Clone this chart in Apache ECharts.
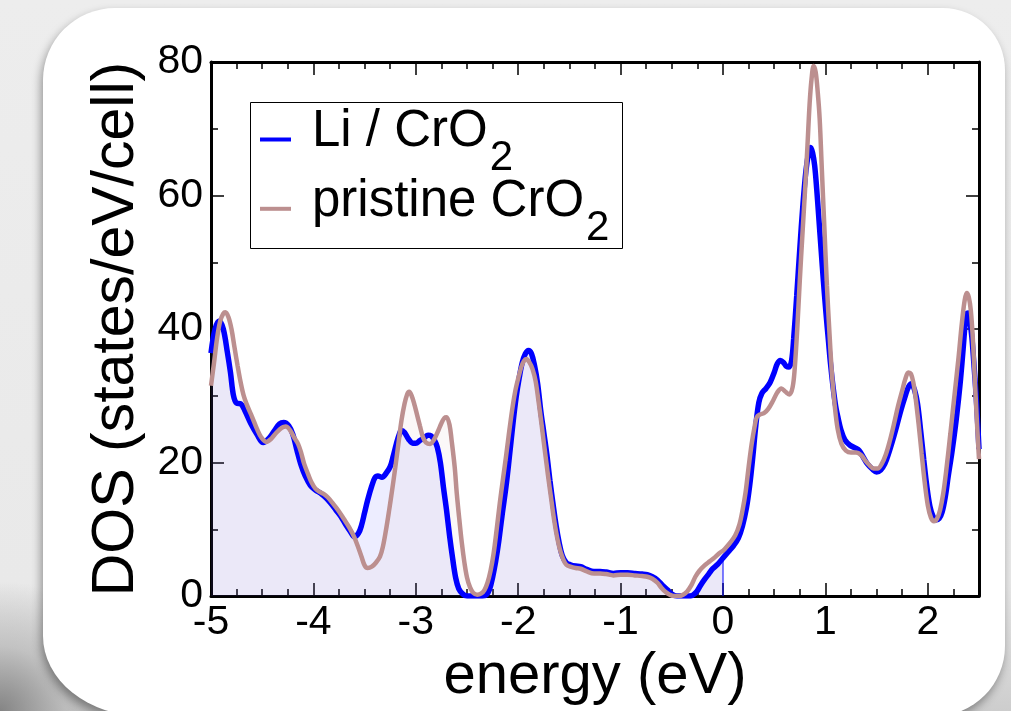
<!DOCTYPE html>
<html>
<head>
<meta charset="utf-8">
<script src="https://cdn.jsdelivr.net/npm/echarts@6/dist/echarts.min.js"></script>
<style>
  html, body { margin: 0; padding: 0; width: 1011px; height: 711px; overflow: hidden; }
  body { position: relative;
         background: radial-gradient(circle 130px at 0px 711px, rgba(120,120,120,0.85) 0%, rgba(170,170,170,0.5) 50%, rgba(230,230,230,0) 100%),
                     linear-gradient(180deg, #ededed 0%, #e9e9e9 82%, #cdcdcd 100%); }
  #card { position: absolute; left: 43px; top: 8px; width: 962px; height: 708px; background: #fff;
          border-radius: 72px 62px 70px 100px / 72px 62px 70px 80px;
          box-shadow: -2px 5px 10px rgba(0,0,0,0.38); }
  #chart { position: absolute; left: 0; top: 0; width: 1011px; height: 711px; }
</style>
</head>
<body>
<div id="card"></div>
<div id="chart"></div>
<script>
// ---- data: Li / CrO2 ----
const liE = [-5.00,-4.96,-4.92,-4.88,-4.84,-4.81,-4.78,-4.75,-4.71,-4.67,-4.61,-4.55,-4.49,-4.43,-4.38,-4.33,-4.29,-4.24,-4.20,-4.16,-4.12,-4.08,-4.03,-3.98,-3.92,-3.87,-3.83,-3.78,-3.73,-3.68,-3.64,-3.60,-3.56,-3.53,-3.50,-3.47,-3.43,-3.40,-3.37,-3.33,-3.29,-3.25,-3.22,-3.19,-3.16,-3.14,-3.11,-3.07,-3.03,-3.00,-2.96,-2.92,-2.88,-2.85,-2.82,-2.79,-2.76,-2.73,-2.70,-2.67,-2.64,-2.61,-2.58,-2.54,-2.50,-2.45,-2.40,-2.35,-2.31,-2.28,-2.25,-2.22,-2.19,-2.16,-2.12,-2.09,-2.05,-2.02,-1.99,-1.96,-1.93,-1.90,-1.87,-1.84,-1.81,-1.78,-1.75,-1.72,-1.69,-1.66,-1.63,-1.60,-1.57,-1.53,-1.49,-1.44,-1.39,-1.33,-1.26,-1.20,-1.14,-1.07,-1.00,-0.93,-0.86,-0.79,-0.74,-0.69,-0.64,-0.59,-0.54,-0.50,-0.45,-0.40,-0.35,-0.30,-0.26,-0.22,-0.18,-0.14,-0.10,-0.05,0.00,0.05,0.10,0.15,0.19,0.23,0.26,0.29,0.32,0.35,0.38,0.42,0.46,0.50,0.53,0.56,0.59,0.62,0.645,0.67,0.69,0.72,0.75,0.78,0.81,0.835,0.855,0.875,0.895,0.915,0.935,0.96,0.98,1.005,1.03,1.05,1.075,1.10,1.125,1.15,1.19,1.24,1.29,1.33,1.37,1.41,1.46,1.50,1.54,1.58,1.62,1.66,1.70,1.74,1.78,1.81,1.84,1.87,1.90,1.93,1.96,1.99,2.02,2.05,2.08,2.11,2.14,2.17,2.20,2.235,2.27,2.30,2.32,2.345,2.365,2.38,2.395,2.41,2.43,2.45,2.47,2.485,2.50];
const liV = [36.4,40.0,41.2,40.0,36.5,33.5,30.0,28.9,28.8,27.8,25.8,24.2,23.0,23.7,24.8,25.8,26.0,25.5,24.2,21.8,19.6,18.0,16.6,15.9,15.3,14.6,13.9,12.9,11.9,10.6,9.7,8.9,9.4,10.6,12.5,14.4,16.5,17.7,18.0,17.8,18.4,19.4,21.0,22.8,24.3,24.8,24.5,23.5,22.9,22.9,23.3,23.7,24.1,24.0,23.4,22.3,20.0,16.3,12.9,9.0,5.6,2.7,1.1,0.3,0.0,0.0,0.0,0.0,0.2,1.0,2.8,5.2,8.2,11.8,16.3,20.3,26.0,29.8,32.7,35.0,36.3,36.8,36.3,34.5,31.8,27.8,24.5,21.2,17.3,13.8,10.6,8.0,6.1,5.0,4.7,4.5,4.4,4.0,3.7,3.7,3.6,3.4,3.5,3.5,3.4,3.3,3.2,2.9,2.4,1.6,0.9,0.3,0.0,0.0,0.0,0.1,0.6,1.6,2.5,3.3,4.1,4.8,5.7,6.6,7.5,8.7,10.5,13.3,16.5,20.7,25.5,29.0,30.4,31.1,32.0,33.5,34.8,35.3,35.0,34.4,34.3,35.3,38.5,45.0,52.0,58.5,63.7,66.3,67.2,66.4,64.5,61.0,56.8,51.5,47.3,42.5,38.2,34.8,31.3,28.5,26.6,25.0,23.4,22.6,22.2,21.8,20.8,19.8,19.0,18.6,18.9,19.8,21.5,23.5,25.7,28.0,30.0,31.3,31.8,30.9,28.8,24.8,20.5,16.5,13.5,12.0,11.4,11.6,12.6,14.8,18.0,21.5,25.5,29.5,32.5,37.0,40.8,42.3,42.4,41.3,38.8,34.8,30.5,26.5,22.0];
// ---- data: pristine CrO2 ----
const prE = [-5.00,-4.97,-4.94,-4.91,-4.88,-4.86,-4.83,-4.80,-4.77,-4.74,-4.71,-4.68,-4.64,-4.60,-4.55,-4.51,-4.46,-4.41,-4.36,-4.31,-4.27,-4.23,-4.19,-4.15,-4.12,-4.09,-4.05,-4.02,-3.98,-3.94,-3.90,-3.86,-3.81,-3.76,-3.70,-3.65,-3.60,-3.56,-3.53,-3.50,-3.47,-3.43,-3.39,-3.35,-3.32,-3.29,-3.26,-3.23,-3.20,-3.17,-3.14,-3.11,-3.085,-3.065,-3.04,-3.01,-2.99,-2.96,-2.93,-2.90,-2.86,-2.82,-2.78,-2.75,-2.72,-2.70,-2.67,-2.65,-2.62,-2.60,-2.575,-2.55,-2.525,-2.50,-2.47,-2.44,-2.40,-2.36,-2.33,-2.30,-2.27,-2.24,-2.21,-2.18,-2.15,-2.12,-2.095,-2.06,-2.03,-2.00,-1.97,-1.945,-1.92,-1.89,-1.86,-1.83,-1.80,-1.77,-1.74,-1.71,-1.68,-1.65,-1.62,-1.59,-1.56,-1.53,-1.49,-1.44,-1.39,-1.33,-1.26,-1.20,-1.14,-1.07,-1.00,-0.93,-0.86,-0.79,-0.74,-0.69,-0.64,-0.60,-0.56,-0.52,-0.48,-0.43,-0.39,-0.35,-0.31,-0.27,-0.23,-0.18,-0.13,-0.08,-0.03,0.00,0.02,0.07,0.12,0.16,0.19,0.22,0.25,0.28,0.31,0.33,0.36,0.40,0.44,0.49,0.53,0.57,0.61,0.65,0.68,0.70,0.725,0.75,0.775,0.80,0.825,0.846,0.865,0.885,0.905,0.925,0.944,0.965,0.99,1.015,1.04,1.065,1.09,1.12,1.157,1.20,1.25,1.30,1.35,1.39,1.43,1.47,1.51,1.55,1.59,1.63,1.67,1.71,1.75,1.78,1.81,1.835,1.86,1.88,1.91,1.94,1.97,2.00,2.03,2.06,2.09,2.12,2.15,2.18,2.22,2.26,2.30,2.33,2.36,2.38,2.40,2.42,2.44,2.46,2.48,2.50];
const prV = [31.5,35.0,38.7,41.2,42.3,42.5,41.8,40.0,37.2,34.5,32.0,30.0,28.3,26.9,25.0,23.8,23.1,23.6,24.5,25.2,25.4,24.9,23.8,22.8,21.5,19.8,18.2,17.1,16.1,15.6,15.3,14.8,13.9,12.9,11.5,10.3,8.8,7.2,5.9,4.6,4.2,4.4,5.0,5.9,7.5,10.0,12.9,16.0,19.3,22.8,26.3,28.8,30.2,30.6,30.0,28.5,27.3,25.5,23.8,23.0,22.8,23.5,24.8,25.9,26.7,26.8,25.6,23.3,19.3,15.4,11.5,7.9,5.0,2.8,1.3,0.5,0.2,0.4,0.9,2.0,3.8,6.4,10.0,13.9,17.4,20.8,23.8,27.8,30.6,32.6,34.3,35.2,35.5,35.0,34.0,32.2,29.0,25.5,21.8,18.2,14.8,11.5,8.8,6.8,5.5,4.7,4.4,4.2,4.1,3.7,3.4,3.4,3.3,3.1,3.2,3.2,3.1,3.0,2.9,2.6,2.0,1.2,0.6,0.2,0.0,0.0,0.2,0.7,1.6,2.9,3.8,4.6,5.2,5.8,6.5,6.8,7.1,8.0,9.1,10.7,12.8,15.5,19.3,22.8,25.5,26.8,27.2,27.4,28.0,29.3,30.5,31.1,30.6,30.2,31.3,34.0,40.0,47.3,54.0,60.5,67.5,73.8,77.5,79.4,78.5,75.5,71.5,64.0,55.2,46.5,39.3,33.0,28.7,25.0,22.8,21.8,21.5,21.5,21.1,20.3,19.6,19.1,19.1,19.8,21.2,23.3,25.8,28.5,30.8,32.5,33.5,33.3,31.9,29.8,25.8,21.3,17.0,13.6,11.8,11.2,11.6,12.9,15.3,18.8,24.3,30.0,35.7,40.5,44.3,45.4,44.8,42.8,38.5,32.2,26.0,20.5];
// ---- axes / labels ----
const xMin = -5, xMax = 2.5, xMajor = 1, xMinor = 0.25;
const yMin = 0, yMax = 80, yMajor = 20;
const seriesNames = ['Li / CrO2', 'pristine CrO2'];
const legendMain = ['Li / CrO', 'pristine CrO'];
const legendSub = ['2', '2'];
const fermiLevel = 0;

const FONT = 'Liberation Sans, Arial, Helvetica, sans-serif';
const BLUE = '#0000ff', PINK = '#bc8f8f';

const liData = liE.map((e, i) => [e, liV[i]]);
const prData = prE.map((e, i) => [e, prV[i]]);
const liFill = liData.filter(p => p[0] <= fermiLevel);
const prFill = prData.filter(p => p[0] <= fermiLevel);
const liAtFermi = liV[liE.indexOf(fermiLevel)];

const chart = echarts.init(document.getElementById('chart'), null, {renderer: 'canvas'});

// text measurement for legend layout
const mctx = document.createElement('canvas').getContext('2d');
function textW(str, size) { mctx.font = size + 'px ' + FONT; return mctx.measureText(str).width; }

function majorX(pos, labels) {
  return {
    type: 'value', position: pos, min: xMin, max: xMax, interval: xMajor, gridIndex: 0,
    name: labels ? 'energy (eV)' : '', nameLocation: 'middle', nameGap: 46,
    nameTextStyle: {fontSize: 58, fontFamily: FONT, color: '#000'},
    axisLine: {show: true, onZero: false, lineStyle: {color: '#000', width: 3}},
    axisTick: {show: true, inside: true, length: 13, lineStyle: {color: '#000', width: 1.5}},
    axisLabel: {show: labels, fontSize: 41, fontFamily: FONT, color: '#000', margin: 6, showMaxLabel: false},
    splitLine: {show: false}
  };
}
function minorX(pos) {
  return {
    type: 'value', position: pos, min: xMin, max: xMax, interval: xMinor, gridIndex: 0,
    axisLine: {show: false, onZero: false},
    axisTick: {show: true, inside: true, length: 7, lineStyle: {color: '#000', width: 1.5}},
    axisLabel: {show: false}, splitLine: {show: false}
  };
}
function yAx(pos, labels) {
  return {
    type: 'value', position: pos, min: yMin, max: yMax, interval: yMajor,
    name: labels ? 'DOS (states/eV/cell)' : '', nameLocation: 'middle', nameGap: 51,
    nameTextStyle: {fontSize: 59, fontFamily: FONT, color: '#000'},
    axisLine: {show: true, onZero: false, lineStyle: {color: '#000', width: 3}},
    axisTick: {show: true, inside: true, length: 13, lineStyle: {color: '#000', width: 1.5}},
    minorTick: {show: true, splitNumber: 2, length: 7, lineStyle: {color: '#000', width: 1.5}},
    axisLabel: {show: labels, fontSize: 41, fontFamily: FONT, color: '#000', margin: 8},
    splitLine: {show: false}
  };
}

// legend drawn as graphic: box, line swatches, text with subscript
const LG = {x: 250, y: 102, w: 372, h: 146, iconX: 260, iconW: 31, textX: 312, base0: 150, rowStep: 69.3,
            mainSize: 51, subSize: 42, subDrop: 23.3, subGap: 2};
const legendColors = [BLUE, PINK];
const legendElems = [{
  type: 'rect', shape: {x: LG.x + 0.5, y: LG.y + 0.5, width: LG.w, height: LG.h},
  style: {fill: '#fff', stroke: '#000', lineWidth: 1}, z: 10
}];
legendMain.forEach((txt, i) => {
  const base = LG.base0 + i * LG.rowStep;
  const iconY = base - 10.5;
  legendElems.push({type: 'rect', shape: {x: LG.iconX, y: iconY - 2, width: LG.iconW, height: 4},
                    style: {fill: legendColors[i]}, z: 11});
  legendElems.push({type: 'text', x: LG.textX, y: base - 0.3465 * LG.mainSize, z: 11,
                    style: {text: txt, fontSize: LG.mainSize, fontFamily: FONT, fill: '#000',
                            align: 'left', verticalAlign: 'middle'}});
  const subX = LG.textX + textW(txt, LG.mainSize) + LG.subGap;
  const subBase = base + LG.subDrop;
  legendElems.push({type: 'text', x: subX, y: subBase - 0.3465 * LG.subSize, z: 11,
                    style: {text: legendSub[i], fontSize: LG.subSize, fontFamily: FONT, fill: '#000',
                            align: 'left', verticalAlign: 'middle'}});
});

const option = {
  animation: false,
  backgroundColor: 'transparent',
  grid: {left: 211, right: 32, top: 62, bottom: 111, containLabel: false},
  xAxis: [majorX('bottom', true), minorX('bottom'), majorX('top', false), minorX('top')],
  yAxis: [yAx('left', true), yAx('right', false)],
  graphic: legendElems,
  series: [
    {name: 'Li fill', type: 'line', data: liFill, smooth: 0.35, symbol: 'none', silent: true, z: 1,
     lineStyle: {width: 0}, areaStyle: {color: 'rgba(0,0,255,0.10)'}},
    {name: 'pristine fill', type: 'line', data: prFill, smooth: 0.35, symbol: 'none', silent: true, z: 1,
     lineStyle: {width: 0}, areaStyle: {color: 'rgba(188,143,143,0.09)'}},
    {name: 'Fermi edge', type: 'line', data: [[fermiLevel, 0], [fermiLevel, liAtFermi]], symbol: 'none', silent: true, z: 2,
     lineStyle: {width: 1, color: BLUE}},
    {name: seriesNames[0], type: 'line', data: liData, smooth: 0.35, symbol: 'none', z: 3,
     itemStyle: {color: BLUE}, lineStyle: {width: 5.5, color: BLUE}},
    {name: seriesNames[1], type: 'line', data: prData, smooth: 0.35, symbol: 'none', z: 4,
     itemStyle: {color: PINK}, lineStyle: {width: 4.5, color: PINK}}
  ]
};
chart.setOption(option);
</script>
</body>
</html>
